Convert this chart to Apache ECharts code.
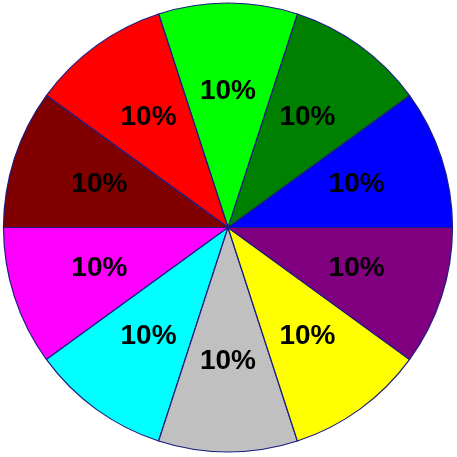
<!DOCTYPE html>
<html>
<head>
<meta charset="utf-8">
<script src="https://cdn.jsdelivr.net/npm/echarts@6/dist/echarts.min.js"></script>
<style>
html,body{margin:0;padding:0;background:#fff;}
#chart{width:457px;height:457px;}
</style>
</head>
<body>
<div id="chart"></div>
<script>
const categories = ['A','B','C','D','E','F','G','H','I','J'];
const values = [10,10,10,10,10,10,10,10,10,10];
const colors = ['#0000FF','#008000','#00FF00','#FF0000','#800000','#FF00FF','#00FFFF','#C0C0C0','#FFFF00','#800080'];

const chart = echarts.init(document.getElementById('chart'), null, {renderer:'canvas'});
const total = values.reduce((a,b)=>a+b,0);
const baseData = categories.map((c,i)=>({name:c, value:values[i], itemStyle:{color:colors[i]}}));
const labelData = categories.map((c,i)=>({name:c, value:values[i]}));

chart.setOption({
  animation:false,
  series:[
    {
      type:'pie',
      center:[228,227.5],
      radius:[0,224.5],
      startAngle:0,
      clockwise:false,
      silent:true,
      label:{show:false},
      labelLine:{show:false},
      itemStyle:{borderColor:'#1c1c80',borderWidth:1.2},
      data:baseData
    },
    {
      type:'pie',
      center:[228,227.5],
      radius:[40,224.5],
      startAngle:0,
      clockwise:false,
      silent:true,
      itemStyle:{color:'rgba(0,0,0,0)',borderWidth:0},
      label:{
        show:true,
        position:'inside',
        offset:[0,-1],
        formatter:(p)=>Math.round(p.value/total*100)+'%',
        fontFamily:'Liberation Sans',
        fontWeight:'bold',
        fontSize:28,
        color:'#000'
      },
      labelLine:{show:false},
      data:labelData
    }
  ]
});
</script>
</body>
</html>
